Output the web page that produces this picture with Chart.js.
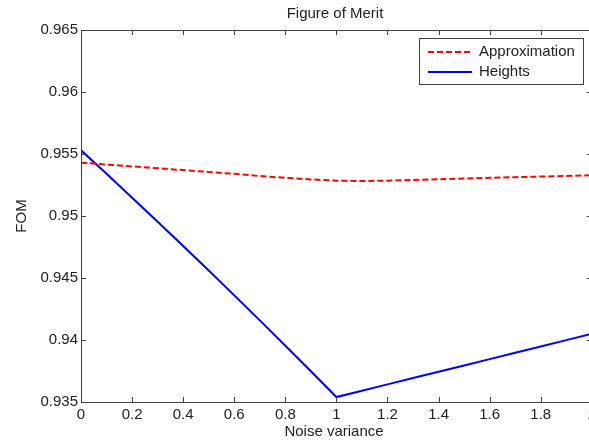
<!DOCTYPE html>
<html>
<head>
<meta charset="utf-8">
<script src="https://cdn.jsdelivr.net/npm/chart.js@4.4.0/dist/chart.umd.min.js"></script>
<style>
  html, body { margin: 0; padding: 0; background: #fff; overflow: hidden; }
  #wrap { width: 589px; height: 440px; overflow: hidden; }
</style>
</head>
<body>
<div id="wrap"><canvas id="fom" width="600" height="440"></canvas></div>
<script>
// values
const noiseVariance = [0, 0.1, 0.2, 0.3, 0.4, 0.5, 0.6, 0.7, 0.8, 0.9, 1.0,
                       1.1, 1.2, 1.3, 1.4, 1.5, 1.6, 1.7, 1.8, 1.9, 2.0];
const approximation = [0.9543, 0.95415, 0.9540, 0.95385, 0.9537, 0.95355, 0.9534, 0.95322, 0.95308, 0.95295, 0.95285,
                       0.95282, 0.95285, 0.9529, 0.95296, 0.95302, 0.95308, 0.95313, 0.95318, 0.95323, 0.95328];
const heights = [0.9553, 0.9534, 0.95148, 0.94954, 0.94758, 0.9456, 0.9436, 0.94158, 0.93954, 0.93748, 0.9354,
                 0.93591, 0.93642, 0.93693, 0.93744, 0.93795, 0.93846, 0.93897, 0.93948, 0.93999, 0.9405];
const xTicks = [0, 0.2, 0.4, 0.6, 0.8, 1, 1.2, 1.4, 1.6, 1.8, 2];
const yTicks = [0.935, 0.94, 0.945, 0.95, 0.955, 0.96, 0.965];

const FONT = 'Liberation Sans, Arial, sans-serif';
const fmt = v => String(Number(v.toFixed(3)));

const toPoints = ys => noiseVariance.map((x, i) => ({ x: x, y: ys[i] }));

// MATLAB style box, inward ticks, titles and legend
const matlabAxes = {
  id: 'matlabAxes',
  afterDraw(chart) {
    const ctx = chart.ctx;
    const a = chart.chartArea;
    const xs = chart.scales.x, ys = chart.scales.y;
    ctx.save();
    ctx.strokeStyle = '#404040';
    ctx.lineWidth = 1;
    ctx.strokeRect(a.left + 0.5, a.top + 0.5, a.right - a.left, a.bottom - a.top);
    ctx.beginPath();
    xTicks.forEach(v => {
      const px = Math.round(xs.getPixelForValue(v)) + 0.5;
      ctx.moveTo(px, a.bottom); ctx.lineTo(px, a.bottom - 5);
      ctx.moveTo(px, a.top); ctx.lineTo(px, a.top + 5);
    });
    yTicks.forEach(v => {
      const py = Math.round(ys.getPixelForValue(v)) + 0.5;
      ctx.moveTo(a.left, py); ctx.lineTo(a.left + 5, py);
      ctx.moveTo(a.right, py); ctx.lineTo(a.right - 5, py);
    });
    ctx.stroke();

    // titles
    ctx.fillStyle = '#222';
    ctx.font = '15px ' + FONT;
    ctx.textAlign = 'center';
    ctx.textBaseline = 'middle';
    ctx.fillText('Figure of Merit', 335, 14);
    ctx.fillText('Noise variance', 334, 432);
    ctx.save();
    ctx.translate(22, (a.top + a.bottom) / 2);
    ctx.rotate(-Math.PI / 2);
    ctx.fillText('FOM', 0, 0);
    ctx.restore();

    // legend
    const lx = 419, ly = 38, lw = 164, lh = 46;
    ctx.fillStyle = '#fff';
    ctx.fillRect(lx, ly, lw, lh);
    ctx.strokeStyle = '#404040';
    ctx.strokeRect(lx + 0.5, ly + 0.5, lw, lh);
    ctx.textAlign = 'left';
    chart.data.datasets.forEach((ds, i) => {
      const y = 52 + i * 20;
      ctx.beginPath();
      ctx.strokeStyle = ds.borderColor;
      ctx.lineWidth = ds.borderWidth;
      ctx.setLineDash(ds.borderDash || []);
      ctx.moveTo(428, y); ctx.lineTo(472, y);
      ctx.stroke();
      ctx.setLineDash([]);
      ctx.fillStyle = '#222';
      ctx.fillText(ds.label, 479, y);
    });
    ctx.restore();
  }
};

new Chart(document.getElementById('fom'), {
  type: 'line',
  data: {
    datasets: [
      {
        label: 'Approximation',
        data: toPoints(approximation),
        borderColor: '#ff0000',
        borderWidth: 2,
        borderDash: [6, 3],
        pointRadius: 0,
        tension: 0,
        fill: false
      },
      {
        label: 'Heights',
        data: toPoints(heights),
        borderColor: '#0000ff',
        borderWidth: 2,
        pointRadius: 0,
        tension: 0,
        fill: false
      }
    ]
  },
  options: {
    responsive: false,
    animation: false,
    layout: { padding: { left: 0, right: 7, top: 30, bottom: 0 } },
    plugins: {
      legend: { display: false },
      title: { display: false },
      tooltip: { enabled: false }
    },
    scales: {
      x: {
        type: 'linear',
        min: 0,
        max: 2,
        afterFit: s => { s.height = 38; },
        afterBuildTicks: s => { s.ticks = xTicks.map(v => ({ value: v })); },
        grid: { display: false, drawTicks: false, tickLength: 0 },
        border: { display: false },
        ticks: {
          color: '#222',
          font: { family: FONT, size: 15 },
          padding: 4,
          maxRotation: 0,
          callback: v => fmt(v)
        }
      },
      y: {
        min: 0.935,
        max: 0.965,
        afterFit: s => { s.width = 81; },
        afterBuildTicks: s => { s.ticks = yTicks.map(v => ({ value: v })); },
        grid: { display: false, drawTicks: false, tickLength: 0 },
        border: { display: false },
        ticks: {
          color: '#222',
          font: { family: FONT, size: 15 },
          padding: 3,
          callback: v => fmt(v)
        }
      }
    }
  },
  plugins: [matlabAxes]
});
</script>
</body>
</html>
